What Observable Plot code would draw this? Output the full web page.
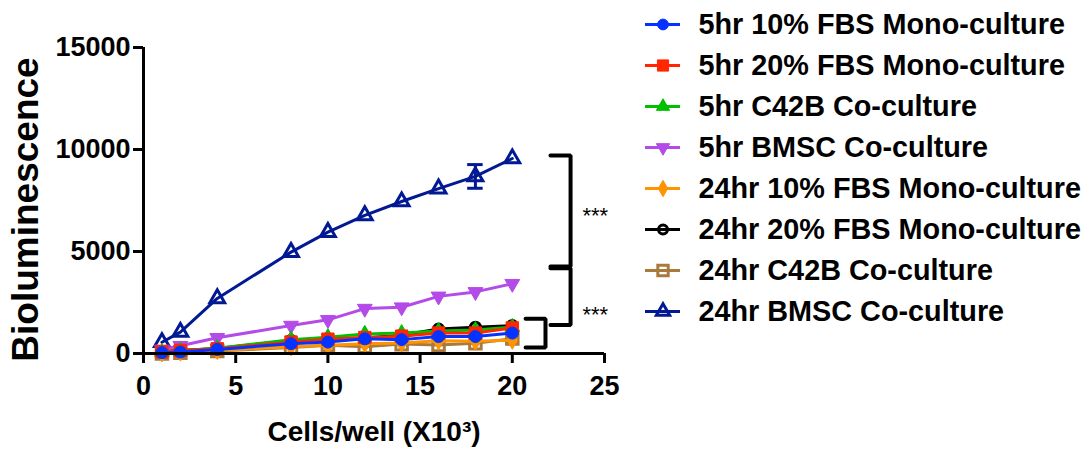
<!DOCTYPE html>
<html><head><meta charset="utf-8">
<script src="https://cdn.jsdelivr.net/npm/d3@7"></script>
<script src="https://cdn.jsdelivr.net/npm/@observablehq/plot@0.6"></script>
<style>
body{margin:0;background:#fff;font-family:"Liberation Sans",Arial,sans-serif;}
#wrap{position:relative;width:1085px;height:450px;overflow:hidden;}
#chart{position:absolute;left:0;top:0;}
#legend{position:absolute;left:640px;top:0;}
</style></head><body><div id="wrap"><div id="chart"></div><div id="legend"></div></div>
<script>
// ---- data ----
const cells = [1, 2, 4, 8, 10, 12, 14, 16, 18, 20];
const seriesNames = [
  "5hr 10% FBS Mono-culture",
  "5hr 20% FBS Mono-culture",
  "5hr C42B Co-culture",
  "5hr BMSC Co-culture",
  "24hr 10% FBS Mono-culture",
  "24hr 20% FBS Mono-culture",
  "24hr C42B Co-culture",
  "24hr BMSC Co-culture"
];
const hr5Fbs10  = [40, 70, 200, 480, 560, 720, 680, 830, 830, 1000];
const hr5Fbs20  = [80, 150, 230, 560, 700, 780, 850, 1000, 1000, 1250];
const hr5C42B   = [70, 130, 260, 680, 800, 960, 1000, 1100, 1150, 1300];
const hr5BMSC   = [200, 380, 770, 1370, 1650, 2200, 2270, 2800, 3020, 3420];
const hr24Fbs10 = [30, 70, 150, 330, 400, 480, 520, 620, 600, 650];
const hr24Fbs20 = [100, 150, 250, 640, 720, 760, 900, 1200, 1290, 1370];
const hr24C42B  = [0, 40, 120, 300, 400, 330, 460, 420, 500, 730];
const hr24BMSC  = [550, 1050, 2700, 4970, 5950, 6770, 7450, 8080, 8680, 9560];
const hr24BMSCerr = [0, 0, 0, 0, 0, 0, 0, 0, 580, 0];
const seriesValues = [hr5Fbs10, hr5Fbs20, hr5C42B, hr5BMSC, hr24Fbs10, hr24Fbs20, hr24C42B, hr24BMSC];
const seriesErrors = [null, null, null, null, null, null, null, hr24BMSCerr];

const xTicks = [0, 5, 10, 15, 20, 25];
const yTicks = [0, 5000, 10000, 15000];

// significance brackets (data units): [xLeft, xRight], [yTop, yBottom]
const bracketX = [[22.07, 23.16], [22.07, 23.16], [20.72, 21.8]];
const bracketY = [[9700, 4265], [4180, 1400], [1700, 290]];
const starLabels = ["***", "***"];
const starX = [24.5, 24.5];
const starY = [6900, 2060];

// ---- styles ----
const seriesColors = ["#0433FF", "#FF2600", "#00C000", "#B44AE8", "#FF9300", "#000000", "#A97A3C", "#011993"];
const seriesSymbols = ["circle", "square", "triangle", "triangle", "diamond", "circle", "square", "triangle"];
const seriesRotate = [0, 0, 0, 180, 0, 0, 0, 0];
const seriesOpen = [false, false, false, false, false, true, true, true];
const seriesR = [6, 7, 5.5, 5.5, 5.5, 5, 6.5, 5.5];

const FONT = "Liberation Sans, Arial, Helvetica, sans-serif";

const rows = seriesNames.flatMap((name, i) =>
  cells.map((x, j) => ({i, name, x, y: seriesValues[i][j], e: seriesErrors[i] ? seriesErrors[i][j] : 0}))
);

const seriesMarks = [];
for (let i = seriesNames.length - 1; i >= 0; i--) {
  const data = rows.filter(d => d.i === i);
  seriesMarks.push(Plot.line(data, {x: "x", y: "y", stroke: seriesColors[i], strokeWidth: 3}));
  const ed = data.filter(d => d.e > 0);
  if (ed.length) {
    seriesMarks.push(Plot.ruleX(ed, {x: "x", y1: d => d.y - d.e, y2: d => d.y + d.e, stroke: seriesColors[i], strokeWidth: 3}));
    seriesMarks.push(Plot.ruleY(ed, {y: d => d.y + d.e, x1: d => d.x - 0.42, x2: d => d.x + 0.42, stroke: seriesColors[i], strokeWidth: 3}));
    seriesMarks.push(Plot.ruleY(ed, {y: d => d.y - d.e, x1: d => d.x - 0.42, x2: d => d.x + 0.42, stroke: seriesColors[i], strokeWidth: 3}));
  }
  seriesMarks.push(Plot.dot(data, {
    x: "x", y: "y", symbol: seriesSymbols[i], r: seriesR[i], rotate: seriesRotate[i],
    fill: seriesOpen[i] ? "none" : seriesColors[i], stroke: seriesColors[i],
    strokeWidth: seriesOpen[i] ? 3 : 1
  }));
}

const bracketRows = bracketX.flatMap(([x1, x2], k) => {
  const [yt, yb] = bracketY[k];
  return [{k, x: x1, y: yt}, {k, x: x2, y: yt}, {k, x: x2, y: yb}, {k, x: x1, y: yb}];
});
const starRows = starLabels.map((t, k) => ({t, x: starX[k], y: starY[k]}));

const chart = Plot.plot({
  width: 640,
  height: 450,
  marginLeft: 143,
  marginRight: 36,
  marginTop: 47,
  marginBottom: 97,
  style: {fontFamily: FONT, background: "white", overflow: "visible", color: "black"},
  x: {domain: [0, 25]},
  y: {domain: [0, 15000]},
  marks: [
    ...seriesMarks,
    Plot.line(bracketRows, {x: "x", y: "y", z: "k", stroke: "black", strokeWidth: 4, strokeLinecap: "round", strokeLinejoin: "miter"}),
    Plot.text(starRows, {x: "x", y: "y", text: "t", fontSize: 22, dy: 3, fill: "black"}),
    Plot.ruleX([0], {strokeWidth: 3, stroke: "black"}),
    Plot.ruleY([0], {strokeWidth: 3, stroke: "black"}),
    Plot.axisX({ticks: xTicks, tickSize: 10, tickPadding: 12, strokeWidth: 3, fontSize: 27, fontWeight: "bold", label: null, tickFormat: d => String(d)}),
    Plot.axisY({ticks: yTicks, tickSize: 10, tickPadding: 3, strokeWidth: 3, fontSize: 27, fontWeight: "bold", label: null, tickFormat: d => String(d)}),
    Plot.text(["Cells/well (X10\u00B3)"], {frameAnchor: "bottom", lineAnchor: "middle", dy: 79, fontSize: 28, fontWeight: "bold", fill: "black"}),
    Plot.text(["Bioluminescence"], {frameAnchor: "left", textAnchor: "middle", lineAnchor: "middle", rotate: -90, dx: -117, dy: 9, fontSize: 37, fontWeight: "bold", fill: "black"})
  ]
});
document.getElementById("chart").appendChild(chart);

// ---- legend (drawn with Plot) ----
const legendMarks = [];
seriesNames.forEach((name, i) => {
  legendMarks.push(Plot.ruleY([name], {y: d => d, x1: 0, x2: 1, stroke: seriesColors[i], strokeWidth: 3}));
  legendMarks.push(Plot.dot([name], {
    x: 0.5, y: d => d, symbol: seriesSymbols[i], r: seriesR[i] * 0.9, rotate: seriesRotate[i],
    fill: seriesOpen[i] ? "none" : seriesColors[i], stroke: seriesColors[i], strokeWidth: seriesOpen[i] ? 3 : 1
  }));
});
legendMarks.push(Plot.text(seriesNames, {x: 1, y: d => d, dx: 18, textAnchor: "start", fontSize: 28.8, fontWeight: "bold", fill: "black"}));

const legend = Plot.plot({
  width: 445,
  height: 345,
  margin: 0,
  style: {fontFamily: FONT, background: "transparent", overflow: "visible"},
  x: {domain: [0, 1], range: [5, 40], axis: null},
  y: {type: "point", domain: seriesNames, range: [22.7, 312.5], padding: 0, axis: null},
  marks: legendMarks
});
document.getElementById("legend").appendChild(legend);
</script>
</body></html>
